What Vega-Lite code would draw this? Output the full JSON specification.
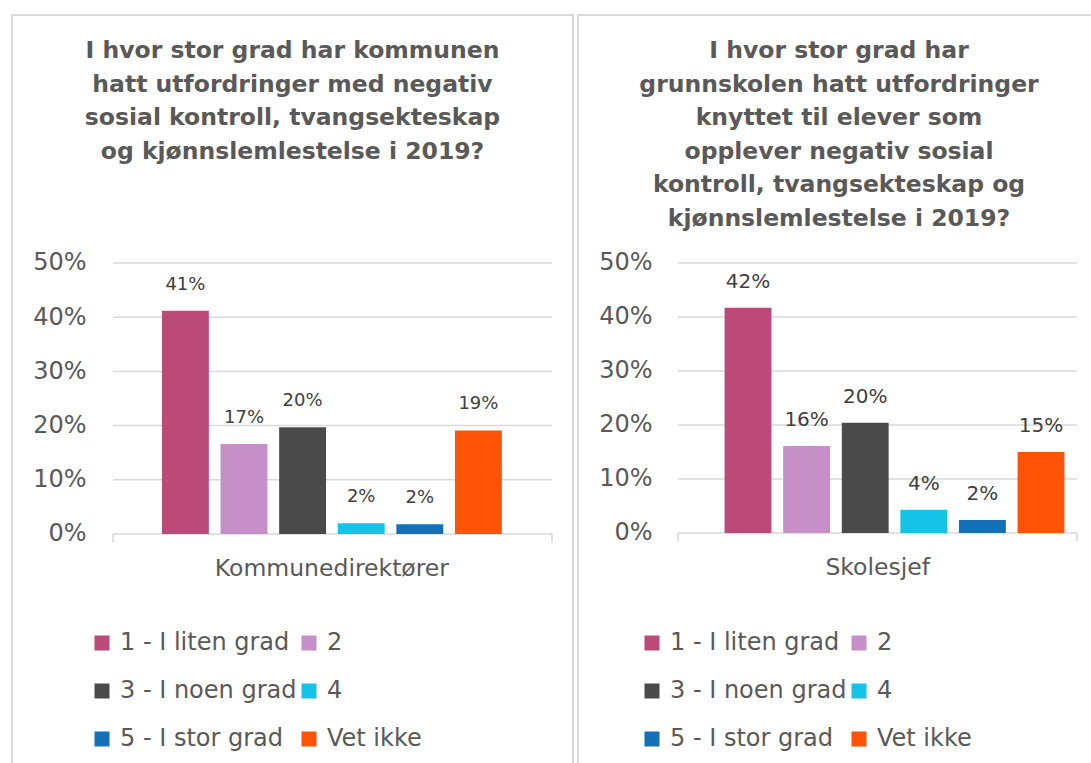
{
  "$schema": "https://vega.github.io/schema/vega-lite/v6.json",
  "padding": {"top": 14, "left": 11, "right": 0, "bottom": 0},
  "background": "white",
  "datasets": {
    "left": [
      {"group": "Kommunedirektører", "series": "1 - I liten grad", "value": 0.412},
      {"group": "Kommunedirektører", "series": "2", "value": 0.166},
      {"group": "Kommunedirektører", "series": "3 - I noen grad", "value": 0.197},
      {"group": "Kommunedirektører", "series": "4", "value": 0.02},
      {"group": "Kommunedirektører", "series": "5 - I stor grad", "value": 0.018},
      {"group": "Kommunedirektører", "series": "Vet ikke", "value": 0.191}
    ],
    "right": [
      {"group": "Skolesjef", "series": "1 - I liten grad", "value": 0.417},
      {"group": "Skolesjef", "series": "2", "value": 0.161},
      {"group": "Skolesjef", "series": "3 - I noen grad", "value": 0.204},
      {"group": "Skolesjef", "series": "4", "value": 0.043},
      {"group": "Skolesjef", "series": "5 - I stor grad", "value": 0.024},
      {"group": "Skolesjef", "series": "Vet ikke", "value": 0.15}
    ],
    "ticks": [{"tick": 0}, {"tick": 0.1}, {"tick": 0.2}, {"tick": 0.3}, {"tick": 0.4}, {"tick": 0.5}],
    "ends": [{"end": 0}, {"end": 1}]
  },
  "spacing": 3,
  "resolve": {"scale": {"color": "independent"}, "legend": {"color": "independent"}},
  "hconcat": [
    {
      "width": 561,
      "height": 760,
      "title": {
        "text": ["I hvor stor grad har kommunen", "hatt utfordringer med negativ", "sosial kontroll, tvangsekteskap", "og kjønnslemlestelse i 2019?"],
        "offset": -148
      },
      "resolve": {"scale": {"x": "independent"}},
      "layer": [
        {
          "data": {"name": "ticks"},
          "mark": {"type": "rule", "color": "#D9D9D9", "strokeWidth": 1.5},
          "encoding": {
            "x": {"datum": 0, "type": "quantitative", "scale": {"domain": [-0.23007, 1.04784]}, "axis": null},
            "x2": {"datum": 1},
            "y": {"field": "tick", "type": "quantitative", "title": null,
                  "scale": {"domain": [-0.44465, 0.95756], "nice": false, "zero": false},
                  "axis": {"values": [0, 0.1, 0.2, 0.3, 0.4, 0.5], "format": ".0%", "offset": -74}}
          }
        },
        {
          "data": {"name": "left"},
          "encoding": {
            "x": {"field": "group", "type": "nominal", "title": null,
                  "scale": {"paddingInner": 0, "paddingOuter": 0.29778, "align": 0.68816},
                  "axis": {"offset": -241}},
            "xOffset": {"field": "series", "type": "nominal",
                        "scale": {"domain": ["1 - I liten grad", "2", "3 - I noen grad", "4", "5 - I stor grad", "Vet ikke"], "paddingInner": 0.2, "paddingOuter": 0.1}},
            "y": {"field": "value", "type": "quantitative", "title": null,
                  "scale": {"domain": [-0.44465, 0.95756], "nice": false, "zero": false},
                  "axis": {"values": [0, 0.1, 0.2, 0.3, 0.4, 0.5], "format": ".0%", "offset": -74}}
          },
          "layer": [
            {
              "mark": {"type": "bar"},
              "encoding": {
                "y2": {"datum": 0},
                "color": {"field": "series", "type": "nominal",
                          "scale": {"domain": ["1 - I liten grad", "2", "3 - I noen grad", "4", "5 - I stor grad", "Vet ikke"],
                                    "range": ["#BB4A78", "#C78FC8", "#4A4A4A", "#15C3E6", "#1570B8", "#FF5308"]},
                          "legend": {"orient": "none", "direction": "horizontal", "legendX": 78, "legendY": 616,
                                     "encode": {"symbols": {"update": {"fill": [
                                       {"test": "datum.label === '1 - I liten grad'", "value": "#BB4A78"},
                                       {"test": "datum.label === '2'", "value": "#C78FC8"},
                                       {"test": "datum.label === '3 - I noen grad'", "value": "#4A4A4A"},
                                       {"test": "datum.label === '4'", "value": "#15C3E6"},
                                       {"test": "datum.label === '5 - I stor grad'", "value": "#4472C4"},
                                       {"value": "#FF5308"}
                                     ]}}}}}
              }
            },
            {
              "mark": {"type": "text", "dy": -26, "baseline": "middle", "fontSize": 18, "color": "#404040"},
              "encoding": {"text": {"field": "value", "type": "quantitative", "format": ".0%"}}
            }
          ]
        },
        {
          "data": {"name": "ends"},
          "mark": {"type": "rule", "color": "#D9D9D9", "strokeWidth": 1.5},
          "encoding": {
            "x": {"field": "end", "type": "quantitative", "scale": {"domain": [-0.23007, 1.04784]}, "axis": null},
            "y": {"datum": 0, "type": "quantitative", "title": null,
                  "axis": {"values": [0, 0.1, 0.2, 0.3, 0.4, 0.5], "format": ".0%", "offset": -74}},
            "y2": {"datum": -0.015}
          }
        }
      ]
    },
    {
      "width": 522,
      "height": 760,
      "title": {
        "text": ["I hvor stor grad har", "grunnskolen hatt utfordringer", "knyttet til elever som", "opplever negativ sosial", "kontroll, tvangsekteskap og", "kjønnslemlestelse i 2019?"],
        "offset": -215
      },
      "resolve": {"scale": {"x": "independent"}},
      "layer": [
        {
          "data": {"name": "ticks"},
          "mark": {"type": "rule", "color": "#D9D9D9", "strokeWidth": 1.5},
          "encoding": {
            "x": {"datum": 0, "type": "quantitative", "scale": {"domain": [-0.25063, 1.05764]}, "axis": null},
            "x2": {"datum": 1},
            "y": {"field": "tick", "type": "quantitative", "title": null,
                  "scale": {"domain": [-0.44815, 0.95926], "nice": false, "zero": false},
                  "axis": {"values": [0, 0.1, 0.2, 0.3, 0.4, 0.5], "format": ".0%", "offset": -74}}
          }
        },
        {
          "data": {"name": "right"},
          "encoding": {
            "x": {"field": "group", "type": "nominal", "title": null,
                  "scale": {"paddingInner": 0, "paddingOuter": 0.3208, "align": 0.6897},
                  "axis": {"offset": -242}},
            "xOffset": {"field": "series", "type": "nominal",
                        "scale": {"domain": ["1 - I liten grad", "2", "3 - I noen grad", "4", "5 - I stor grad", "Vet ikke"], "paddingInner": 0.2, "paddingOuter": 0.1}},
            "y": {"field": "value", "type": "quantitative", "title": null,
                  "scale": {"domain": [-0.44815, 0.95926], "nice": false, "zero": false},
                  "axis": {"values": [0, 0.1, 0.2, 0.3, 0.4, 0.5], "format": ".0%", "offset": -74}}
          },
          "layer": [
            {
              "mark": {"type": "bar"},
              "encoding": {
                "y2": {"datum": 0},
                "color": {"field": "series", "type": "nominal",
                          "scale": {"domain": ["1 - I liten grad", "2", "3 - I noen grad", "4", "5 - I stor grad", "Vet ikke"],
                                    "range": ["#BB4A78", "#C78FC8", "#4A4A4A", "#15C3E6", "#1570B8", "#FF5308"]},
                          "legend": {"orient": "none", "direction": "horizontal", "legendX": 62, "legendY": 616}}
              }
            },
            {
              "mark": {"type": "text", "dy": -26, "baseline": "middle", "fontSize": 20, "color": "#404040"},
              "encoding": {"text": {"field": "value", "type": "quantitative", "format": ".0%"}}
            }
          ]
        },
        {
          "data": {"name": "ends"},
          "mark": {"type": "rule", "color": "#D9D9D9", "strokeWidth": 1.5},
          "encoding": {
            "x": {"field": "end", "type": "quantitative", "scale": {"domain": [-0.25063, 1.05764]}, "axis": null},
            "y": {"datum": 0, "type": "quantitative", "title": null,
                  "axis": {"values": [0, 0.1, 0.2, 0.3, 0.4, 0.5], "format": ".0%", "offset": -74}},
            "y2": {"datum": -0.015}
          }
        }
      ]
    }
  ],
  "config": {
    "font": "DejaVu Sans",
    "view": {"stroke": "#D9D9D9", "strokeWidth": 2},
    "title": {"fontSize": 23.5, "fontWeight": "bold", "color": "#595959", "lineHeight": 33.5, "anchor": "middle", "frame": "group", "font": "DejaVu Sans"},
    "axis": {"labelFont": "DejaVu Sans", "labelColor": "#595959", "ticks": false, "grid": false, "domain": false},
    "axisY": {"labelFontSize": 24, "labelPadding": 0},
    "axisX": {"labelFontSize": 23.5, "labelPadding": 22, "labelAngle": 0, "labelLimit": 0},
    "legend": {"title": null, "columns": 2, "symbolType": "square", "symbolSize": 225, "symbolStrokeWidth": 0, "labelFontSize": 24, "labelColor": "#595959", "labelFont": "DejaVu Sans", "labelOffset": 6, "columnPadding": 0, "rowPadding": 24, "labelLimit": 0}
  }
}
